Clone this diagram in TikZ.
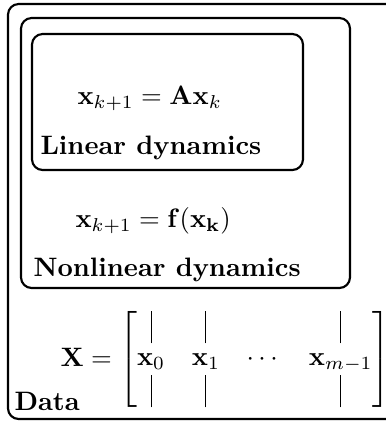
\documentclass[tikz,border=0pt]{standalone}
\usepackage{amsmath}
\usetikzlibrary{fit}
\begin{document}
\begin{tikzpicture}[x=0.375pt,y=-0.375pt,
  box/.style={draw, line width=0.8pt, rounded corners=4pt, inner sep=0pt},
  lbl/.style={anchor=base west, inner sep=0pt, font=\bfseries},
  eq/.style={anchor=base west, inner sep=0pt}]
\useasboundingbox (0,0) rectangle (386,422);
\node[box, fit={(8,4) (400,419)}] (outer) {};
\node[box, fit={(21,18) (350,288)}] (nonlin) {};
\node[box, fit={(32,34) (303,170)}] (lin) {};
\node[eq] (eqlin) at (77,104) {$\mathbf{x}_{k+1} = \mathbf{A}\mathbf{x}_k$};
\node[lbl] (linlbl) at (40,154) {Linear dynamics};
\node[eq] (eqnonlin) at (75,227) {$\mathbf{x}_{k+1} = \mathbf{f}(\mathbf{x_k})$};
\node[lbl] (nonlinlbl) at (33,276) {Nonlinear dynamics};
\node[eq] (eqdata) at (60,366) {$\mathbf{X} = \begin{bmatrix} \vline & \vline & & \vline \\ \mathbf{x}_0 & \mathbf{x}_1 & \cdots & \mathbf{x}_{m-1} \\ \vline & \vline & & \vline \end{bmatrix}$};
\node[lbl] (datalbl) at (14,410) {Data};
\end{tikzpicture}
\end{document}
